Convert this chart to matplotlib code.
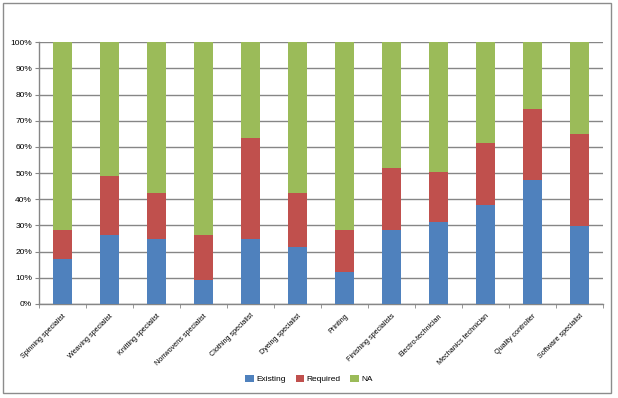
import numpy as np
import matplotlib
matplotlib.use("Agg")
import matplotlib.pyplot as plt
from matplotlib.patches import Rectangle
from matplotlib.ticker import PercentFormatter

plt.rcParams['font.family'] = ['Liberation Sans', 'DejaVu Sans']

categories = ['Spinning specialist', 'Weaving specialist', 'Knitting specialist',
              'Nonwovens specialist', 'Clothing specialist', 'Dyeing specialist',
              'Printing', 'Finishing specialists', 'Electro-technician',
              'Mechanics technician', 'Quality controller', 'Software specialist']
existing = [17.1, 26.5, 25.0, 9.2, 25.0, 21.9, 12.4, 28.3, 31.5, 37.7, 47.4, 29.9]
required = [11.1, 22.4, 17.4, 17.2, 38.3, 20.5, 15.8, 23.7, 18.9, 23.8, 27.0, 35.1]
na = [100 - e - r for e, r in zip(existing, required)]

series = ['Existing', 'Required', 'NA']
colors = ['#4F81BD', '#C0504D', '#9BBB59']
grid_col = '#868686'

fig = plt.figure(figsize=(6.18, 3.98), dpi=100)
ax = fig.add_axes([0.0631, 0.2362, 0.9122, 0.6575])

x = np.arange(len(categories))
bottom = np.zeros(len(categories))
for name, vals, c in zip(series, [existing, required, na], colors):
    ax.bar(x, vals, 0.41, bottom=bottom, color=c, label=name, zorder=3)
    bottom += np.array(vals)

ax.set_xlim(-0.5, len(categories) - 0.5)
ax.set_ylim(0, 100)
ax.set_yticks(np.arange(0, 101, 10))
ax.yaxis.set_major_formatter(PercentFormatter(decimals=0))
ax.grid(axis='y', color=grid_col, linewidth=1.0, zorder=0)

ax.set_xticks(x)
ax.set_xticklabels(categories, rotation=45, ha='right', rotation_mode='anchor', fontsize=5.2)
ax.set_xticks(np.arange(-0.5, len(categories), 1), minor=True)
ax.tick_params(axis='x', which='major', length=0, pad=6)
ax.tick_params(axis='x', which='minor', length=3, color=grid_col, direction='out')
ax.tick_params(axis='y', length=3, color=grid_col, labelsize=6, pad=2)

for s in ['top', 'right']:
    ax.spines[s].set_visible(False)
for s in ['left', 'bottom']:
    ax.spines[s].set_color(grid_col)
    ax.spines[s].set_linewidth(1.0)

fig.legend(loc='center', bbox_to_anchor=(0.5, 0.048), ncol=3, frameon=False,
           fontsize=6, handlelength=1.0, handleheight=1.0, handletextpad=0.3,
           columnspacing=1.2)

fig.patches.append(Rectangle((3 / 618, 5 / 398), 608 / 618, 390 / 398,
                             transform=fig.transFigure, fill=False,
                             edgecolor='#8c8c8c', linewidth=1.0))

fig.savefig('out.png', dpi=100)
